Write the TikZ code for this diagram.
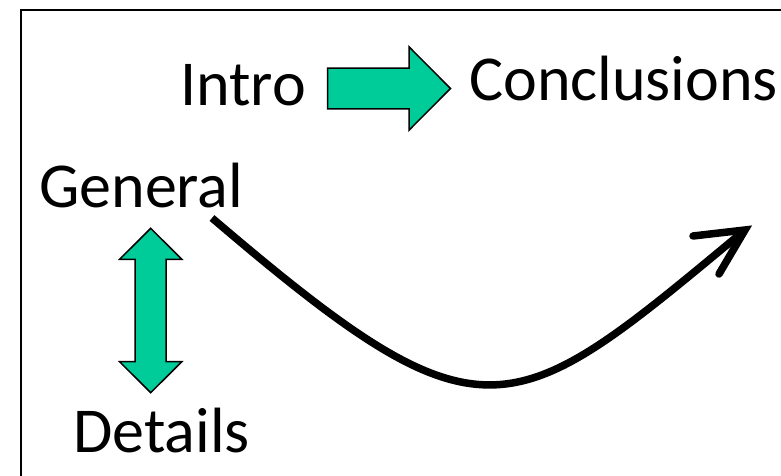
\documentclass[tikz,border=0pt]{standalone}
\usepackage{fontspec}
\setmainfont{Carlito}
\definecolor{blockgreen}{RGB}{0,204,153}
\begin{document}
\begin{tikzpicture}[x=1pt,y=-1pt,
  lbl/.style={inner sep=0pt, anchor=base west, font=\fontsize{64}{72}\selectfont},
  blockarrow/.style={fill=blockgreen, draw=black, line width=1.5pt, line join=miter},
  bigcurve/.style={line width=7.5pt, line cap=butt},
  barb/.style={line width=7.5pt, line cap=round, line join=miter}]
\useasboundingbox (0,0) rectangle (781,476);
\clip (0,0) rectangle (781,476);
\fill[white] (0,0) rectangle (781,476);
% frame
\draw[line width=2pt] (20.5,10.5) rectangle (800,500);
% texts
\node[lbl] (intro) at (180,106) {Intro};
\node[lbl] (concl) at (469,101) {Conclusions};
\node[lbl] (gen) at (39,207) {General};
\node[lbl] (det) at (73,452) {Details};
% right block arrow
\draw[blockarrow] (327.7,68.2) -- (409,68.2) -- (409,46.8) -- (450.5,88.5)
  -- (409,130.2) -- (409,108.8) -- (327.7,108.8) -- cycle;
% double block arrow
\draw[blockarrow] (150.7,228.3) -- (181.8,259.3) -- (166.2,259.3) -- (166.2,361.7)
  -- (181.8,361.7) -- (150.7,392.7) -- (119.6,361.7) -- (135.2,361.7)
  -- (135.2,259.3) -- (119.6,259.3) -- cycle;
% curved arrow
\coordinate (cs) at (212,218);
\coordinate (ce) at (745,230);
\coordinate (a1) at (693,236);
\coordinate (a2) at (719,274);
\draw[bigcurve] (cs) .. controls (486,452) and (510,425) .. (ce);
\draw[barb] (a1) -- (ce) -- (a2);
\end{tikzpicture}
\end{document}
